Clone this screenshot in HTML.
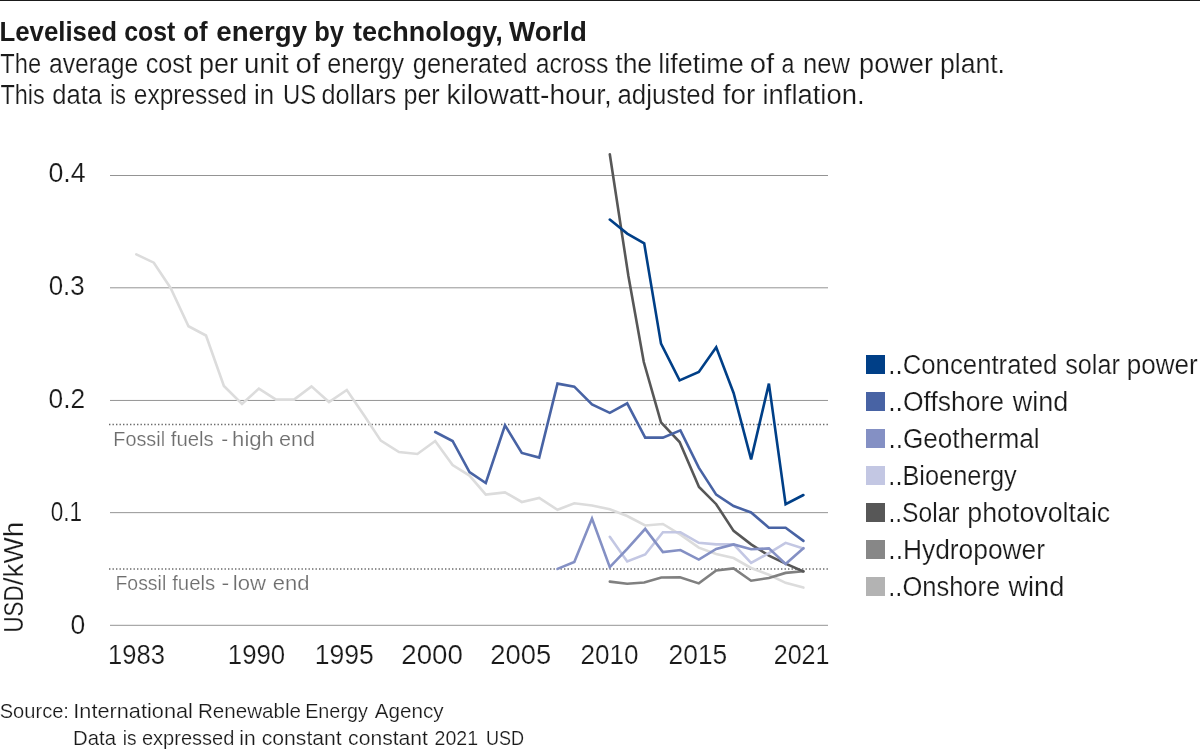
<!DOCTYPE html>
<html lang="en"><head><meta charset="utf-8"><title>Levelised cost of energy by technology, World</title>
<style>
html,body{margin:0;padding:0;background:#fff;}
body{width:1200px;height:750px;overflow:hidden;font-family:"Liberation Sans",sans-serif;}
svg{display:block;font-family:"Liberation Sans",sans-serif;will-change:transform;}
</style></head><body>
<svg width="1200" height="750" viewBox="0 0 1200 750">
<rect x="0" y="0" width="1200" height="750" fill="#ffffff"/>
<rect x="0" y="0" width="1200" height="1" fill="#1a1a1a"/>
<g font-size="26.8" fill="#1a1a1a" font-weight="bold"><text x="-0.48" y="40.8" textLength="117.47" lengthAdjust="spacingAndGlyphs">Levelised</text><text x="124.20" y="40.8" textLength="51.06" lengthAdjust="spacingAndGlyphs">cost</text><text x="183.14" y="40.8" textLength="24.34" lengthAdjust="spacingAndGlyphs">of</text><text x="216.37" y="40.8" textLength="90.65" lengthAdjust="spacingAndGlyphs">energy</text><text x="314.16" y="40.8" textLength="29.81" lengthAdjust="spacingAndGlyphs">by</text><text x="353.09" y="40.8" textLength="149.61" lengthAdjust="spacingAndGlyphs">technology,</text><text x="509.04" y="40.8" textLength="77.86" lengthAdjust="spacingAndGlyphs">World</text></g>
<g font-size="26.8" fill="#1a1a1a" font-weight="normal" stroke="#ffffff" stroke-width="0.2"><text x="0.35" y="72.7" textLength="40.74" lengthAdjust="spacingAndGlyphs">The</text><text x="48.92" y="72.7" textLength="89.32" lengthAdjust="spacingAndGlyphs">average</text><text x="145.64" y="72.7" textLength="46.39" lengthAdjust="spacingAndGlyphs">cost</text><text x="198.94" y="72.7" textLength="39.01" lengthAdjust="spacingAndGlyphs">per</text><text x="244.14" y="72.7" textLength="44.51" lengthAdjust="spacingAndGlyphs">unit</text><text x="295.52" y="72.7" textLength="24.55" lengthAdjust="spacingAndGlyphs">of</text><text x="327.21" y="72.7" textLength="76.96" lengthAdjust="spacingAndGlyphs">energy</text><text x="412.72" y="72.7" textLength="114.73" lengthAdjust="spacingAndGlyphs">generated</text><text x="535.66" y="72.7" textLength="72.79" lengthAdjust="spacingAndGlyphs">across</text><text x="615.29" y="72.7" textLength="36.78" lengthAdjust="spacingAndGlyphs">the</text><text x="658.36" y="72.7" textLength="85.43" lengthAdjust="spacingAndGlyphs">lifetime</text><text x="749.66" y="72.7" textLength="24.50" lengthAdjust="spacingAndGlyphs">of</text><text x="781.58" y="72.7" textLength="12.90" lengthAdjust="spacingAndGlyphs">a</text><text x="803.03" y="72.7" textLength="46.88" lengthAdjust="spacingAndGlyphs">new</text><text x="859.14" y="72.7" textLength="73.86" lengthAdjust="spacingAndGlyphs">power</text><text x="939.95" y="72.7" textLength="65.04" lengthAdjust="spacingAndGlyphs">plant.</text></g>
<g font-size="26.8" fill="#1a1a1a" font-weight="normal" stroke="#ffffff" stroke-width="0.2"><text x="0.38" y="103.8" textLength="44.31" lengthAdjust="spacingAndGlyphs">This</text><text x="52.20" y="103.8" textLength="49.83" lengthAdjust="spacingAndGlyphs">data</text><text x="110.28" y="103.8" textLength="15.74" lengthAdjust="spacingAndGlyphs">is</text><text x="133.82" y="103.8" textLength="112.93" lengthAdjust="spacingAndGlyphs">expressed</text><text x="254.09" y="103.8" textLength="20.13" lengthAdjust="spacingAndGlyphs">in</text><text x="283.05" y="103.8" textLength="33.10" lengthAdjust="spacingAndGlyphs">US</text><text x="321.51" y="103.8" textLength="74.55" lengthAdjust="spacingAndGlyphs">dollars</text><text x="403.46" y="103.8" textLength="36.21" lengthAdjust="spacingAndGlyphs">per</text><text x="446.48" y="103.8" textLength="165.38" lengthAdjust="spacingAndGlyphs">kilowatt-hour,</text><text x="617.44" y="103.8" textLength="97.67" lengthAdjust="spacingAndGlyphs">adjusted</text><text x="722.79" y="103.8" textLength="32.64" lengthAdjust="spacingAndGlyphs">for</text><text x="762.45" y="103.8" textLength="102.11" lengthAdjust="spacingAndGlyphs">inflation.</text></g>
<g font-size="26.8" fill="#1a1a1a" font-weight="normal" stroke="#ffffff" stroke-width="0.2"><text x="48.45" y="182.1" textLength="37.27" lengthAdjust="spacingAndGlyphs">0.4</text></g>
<g font-size="26.8" fill="#1a1a1a" font-weight="normal" stroke="#ffffff" stroke-width="0.2"><text x="48.63" y="295" textLength="36.08" lengthAdjust="spacingAndGlyphs">0.3</text></g>
<g font-size="26.8" fill="#1a1a1a" font-weight="normal" stroke="#ffffff" stroke-width="0.2"><text x="48.54" y="408" textLength="36.59" lengthAdjust="spacingAndGlyphs">0.2</text></g>
<g font-size="26.8" fill="#1a1a1a" font-weight="normal" stroke="#ffffff" stroke-width="0.2"><text x="50.68" y="521" textLength="31.32" lengthAdjust="spacingAndGlyphs">0.1</text></g>
<g font-size="26.8" fill="#1a1a1a" font-weight="normal" stroke="#ffffff" stroke-width="0.2"><text x="70.62" y="634" textLength="14.75" lengthAdjust="spacingAndGlyphs">0</text></g>
<g font-size="26.8" fill="#1a1a1a" font-weight="normal" stroke="#ffffff" stroke-width="0.2"><text x="108.05" y="663.7" textLength="56.88" lengthAdjust="spacingAndGlyphs">1983</text><text x="227.81" y="663.7" textLength="57.42" lengthAdjust="spacingAndGlyphs">1990</text><text x="314.78" y="663.7" textLength="59.13" lengthAdjust="spacingAndGlyphs">1995</text><text x="401.25" y="663.7" textLength="61.62" lengthAdjust="spacingAndGlyphs">2000</text><text x="490.33" y="663.7" textLength="60.86" lengthAdjust="spacingAndGlyphs">2005</text><text x="580.42" y="663.7" textLength="58.07" lengthAdjust="spacingAndGlyphs">2010</text><text x="668.59" y="663.7" textLength="58.72" lengthAdjust="spacingAndGlyphs">2015</text><text x="773.71" y="663.7" textLength="55.85" lengthAdjust="spacingAndGlyphs">2021</text></g>
<g font-size="20.9" fill="#6e6e6e" font-weight="normal" stroke="#ffffff" stroke-width="0.2"><text x="113.34" y="446" textLength="51.73" lengthAdjust="spacingAndGlyphs">Fossil</text><text x="170.75" y="446" textLength="43.00" lengthAdjust="spacingAndGlyphs">fuels</text><text x="221.18" y="446" textLength="6.85" lengthAdjust="spacingAndGlyphs">-</text><text x="232.07" y="446" textLength="41.88" lengthAdjust="spacingAndGlyphs">high</text><text x="279.04" y="446" textLength="36.11" lengthAdjust="spacingAndGlyphs">end</text></g>
<g font-size="20.9" fill="#6e6e6e" font-weight="normal" stroke="#ffffff" stroke-width="0.2"><text x="115.46" y="590.2" textLength="50.78" lengthAdjust="spacingAndGlyphs">Fossil</text><text x="172.15" y="590.2" textLength="43.05" lengthAdjust="spacingAndGlyphs">fuels</text><text x="221.41" y="590.2" textLength="7.70" lengthAdjust="spacingAndGlyphs">-</text><text x="232.86" y="590.2" textLength="33.20" lengthAdjust="spacingAndGlyphs">low</text><text x="272.68" y="590.2" textLength="36.76" lengthAdjust="spacingAndGlyphs">end</text></g>
<g font-size="26.8" fill="#1a1a1a" font-weight="normal" stroke="#ffffff" stroke-width="0.2"><text x="888.37" y="373.7" textLength="168.97" lengthAdjust="spacingAndGlyphs">..Concentrated</text><text x="1065.26" y="373.7" textLength="54.59" lengthAdjust="spacingAndGlyphs">solar</text><text x="1126.79" y="373.7" textLength="70.84" lengthAdjust="spacingAndGlyphs">power</text></g>
<g font-size="26.8" fill="#1a1a1a" font-weight="normal" stroke="#ffffff" stroke-width="0.2"><text x="888.27" y="410.7" textLength="115.81" lengthAdjust="spacingAndGlyphs">..Offshore</text><text x="1012.83" y="410.7" textLength="55.46" lengthAdjust="spacingAndGlyphs">wind</text></g>
<g font-size="26.8" fill="#1a1a1a" font-weight="normal" stroke="#ffffff" stroke-width="0.2"><text x="888.42" y="447.7" textLength="151.15" lengthAdjust="spacingAndGlyphs">..Geothermal</text></g>
<g font-size="26.8" fill="#1a1a1a" font-weight="normal" stroke="#ffffff" stroke-width="0.2"><text x="888.35" y="484.7" textLength="128.34" lengthAdjust="spacingAndGlyphs">..Bioenergy</text></g>
<g font-size="26.8" fill="#1a1a1a" font-weight="normal" stroke="#ffffff" stroke-width="0.2"><text x="888.41" y="521.7" textLength="71.15" lengthAdjust="spacingAndGlyphs">..Solar</text><text x="967.29" y="521.7" textLength="142.94" lengthAdjust="spacingAndGlyphs">photovoltaic</text></g>
<g font-size="26.8" fill="#1a1a1a" font-weight="normal" stroke="#ffffff" stroke-width="0.2"><text x="888.34" y="558.7" textLength="156.71" lengthAdjust="spacingAndGlyphs">..Hydropower</text></g>
<g font-size="26.8" fill="#1a1a1a" font-weight="normal" stroke="#ffffff" stroke-width="0.2"><text x="888.28" y="595.7" textLength="111.94" lengthAdjust="spacingAndGlyphs">..Onshore</text><text x="1008.51" y="595.7" textLength="55.70" lengthAdjust="spacingAndGlyphs">wind</text></g>
<g font-size="20.9" fill="#1a1a1a" font-weight="normal" stroke="#ffffff" stroke-width="0.2"><text x="-0.27" y="717.8" textLength="69.19" lengthAdjust="spacingAndGlyphs">Source:</text><text x="73.33" y="717.8" textLength="119.54" lengthAdjust="spacingAndGlyphs">International</text><text x="197.96" y="717.8" textLength="103.11" lengthAdjust="spacingAndGlyphs">Renewable</text><text x="305.16" y="717.8" textLength="62.74" lengthAdjust="spacingAndGlyphs">Energy</text><text x="374.84" y="717.8" textLength="68.84" lengthAdjust="spacingAndGlyphs">Agency</text></g>
<g font-size="20.9" fill="#1a1a1a" font-weight="normal" stroke="#ffffff" stroke-width="0.2"><text x="73.06" y="745.3" textLength="42.91" lengthAdjust="spacingAndGlyphs">Data</text><text x="122.64" y="745.3" textLength="13.82" lengthAdjust="spacingAndGlyphs">is</text><text x="141.97" y="745.3" textLength="92.41" lengthAdjust="spacingAndGlyphs">expressed</text><text x="239.36" y="745.3" textLength="16.39" lengthAdjust="spacingAndGlyphs">in</text><text x="261.75" y="745.3" textLength="79.99" lengthAdjust="spacingAndGlyphs">constant</text><text x="348.09" y="745.3" textLength="79.87" lengthAdjust="spacingAndGlyphs">constant</text><text x="434.55" y="745.3" textLength="43.64" lengthAdjust="spacingAndGlyphs">2021</text><text x="486.00" y="745.3" textLength="38.13" lengthAdjust="spacingAndGlyphs">USD</text></g>
<g font-size="26.8" fill="#1a1a1a" font-weight="normal" stroke="#ffffff" stroke-width="0.2" transform="translate(23.2,631.2) rotate(-90)"><text x="-1.40" y="0" textLength="47.27" lengthAdjust="spacingAndGlyphs">USD</text><text x="45.98" y="0" textLength="63.44" lengthAdjust="spacingAndGlyphs">/kWh</text></g>
<line x1="110" x2="828" y1="175.5" y2="175.5" stroke="#949494" stroke-width="1"/>
<line x1="110" x2="828" y1="287.8" y2="287.8" stroke="#949494" stroke-width="1"/>
<line x1="110" x2="828" y1="400.45" y2="400.45" stroke="#949494" stroke-width="1"/>
<line x1="110" x2="828" y1="512.65" y2="512.65" stroke="#949494" stroke-width="1"/>
<line x1="110" x2="828" y1="625.3" y2="625.3" stroke="#949494" stroke-width="1"/>
<line x1="109" x2="830" y1="424.6" y2="424.6" stroke="#6a6a6a" stroke-width="1.5" stroke-dasharray="1.4 2.1"/>
<line x1="109" x2="830" y1="568.9" y2="568.9" stroke="#6a6a6a" stroke-width="1.5" stroke-dasharray="1.4 2.1"/>
<polyline points="136.3,254.4 153.8,262.7 170.6,288 188.5,326.2 206,335.5 223.9,386 242,404 258.9,388.6 276.1,399.6 294,399.6 311.5,386.4 329,402 346.8,390 364.2,415.5 380.8,440.6 399,452 417.4,454 435.2,441 452.6,465 469.5,475.6 485.8,494.6 505,492.4 521.8,502 539.2,498 557.5,509.8 574.3,503.3 592,505.5 609.8,509.3 627.2,516 645.2,525.5 662.9,524 680.4,534.6 698.8,547.6 716.2,554 733.6,558 751.1,568 768.9,574.8 785.6,582.8 803.4,587.6" fill="none" stroke="#dcdcdc" stroke-width="2.6" stroke-linejoin="miter" stroke-miterlimit="4" stroke-linecap="round"/>
<polyline points="609.8,581.6 627.2,583.8 644.2,582.5 661.3,577.5 680,577.2 698.8,583.4 716.2,570.5 733.6,568.4 751.1,580.7 768.9,578 785.6,572.9 803.4,571.3" fill="none" stroke="#808080" stroke-width="2.6" stroke-linejoin="miter" stroke-miterlimit="4" stroke-linecap="round"/>
<polyline points="609.8,154.3 628.4,276 643.8,362 661,422.4 679.6,442 699,487 716.2,504.2 733.6,530.9 751.1,544.4 768.9,555.6 785.6,563.6 803.4,571.5" fill="none" stroke="#575757" stroke-width="2.6" stroke-linejoin="miter" stroke-miterlimit="4" stroke-linecap="round"/>
<polyline points="609.8,536.8 627.2,561.5 645.2,554.5 662.9,532.3 680.4,532.3 698.8,542.8 716.2,544.4 733.6,544.4 751.1,562.8 768.9,553.2 785.6,542.8 803.4,548.5" fill="none" stroke="#c3c7e3" stroke-width="2.6" stroke-linejoin="miter" stroke-miterlimit="4" stroke-linecap="round"/>
<polyline points="557.5,568.9 574.3,562 592,518.6 609.8,567.1 627.2,548.8 645.2,528.9 662.9,552 680.4,550 698.8,559.6 716.2,548.9 733.6,544.4 751.1,549.2 768.9,548.4 785.6,564 803.4,548.2" fill="none" stroke="#8490c4" stroke-width="2.6" stroke-linejoin="miter" stroke-miterlimit="4" stroke-linecap="round"/>
<polyline points="435.2,432 452.6,441 469.5,472 485.8,483 505,425.4 521.8,453 539.2,457.6 557.5,383.6 574.3,386.6 592,404.5 609.8,412.9 627.2,403.3 645.2,437.6 662.9,437.6 680.4,430.4 698.8,467.6 716.2,494.6 733.6,506 751.1,512.5 768.9,527.7 785.6,527.7 803.4,540.9" fill="none" stroke="#4863a4" stroke-width="2.6" stroke-linejoin="miter" stroke-miterlimit="4" stroke-linecap="round"/>
<polyline points="609.8,219.6 627.2,233.6 644.2,243.4 661,343.6 679.6,380.4 698.8,372 716.2,347.2 733.6,393 751.1,459.4 768.9,383.6 785.6,504.2 803.4,495.0" fill="none" stroke="#003f87" stroke-width="2.6" stroke-linejoin="miter" stroke-miterlimit="4" stroke-linecap="round"/>
<rect x="866" y="355" width="19" height="19" fill="#003f87"/>
<rect x="866" y="392" width="19" height="19" fill="#4863a4"/>
<rect x="866" y="429" width="19" height="19" fill="#8490c4"/>
<rect x="866" y="466" width="19" height="19" fill="#c3c7e3"/>
<rect x="866" y="503" width="19" height="19" fill="#575757"/>
<rect x="866" y="540" width="19" height="19" fill="#878787"/>
<rect x="866" y="577" width="19" height="19" fill="#b3b3b3"/>
</svg></body></html>
